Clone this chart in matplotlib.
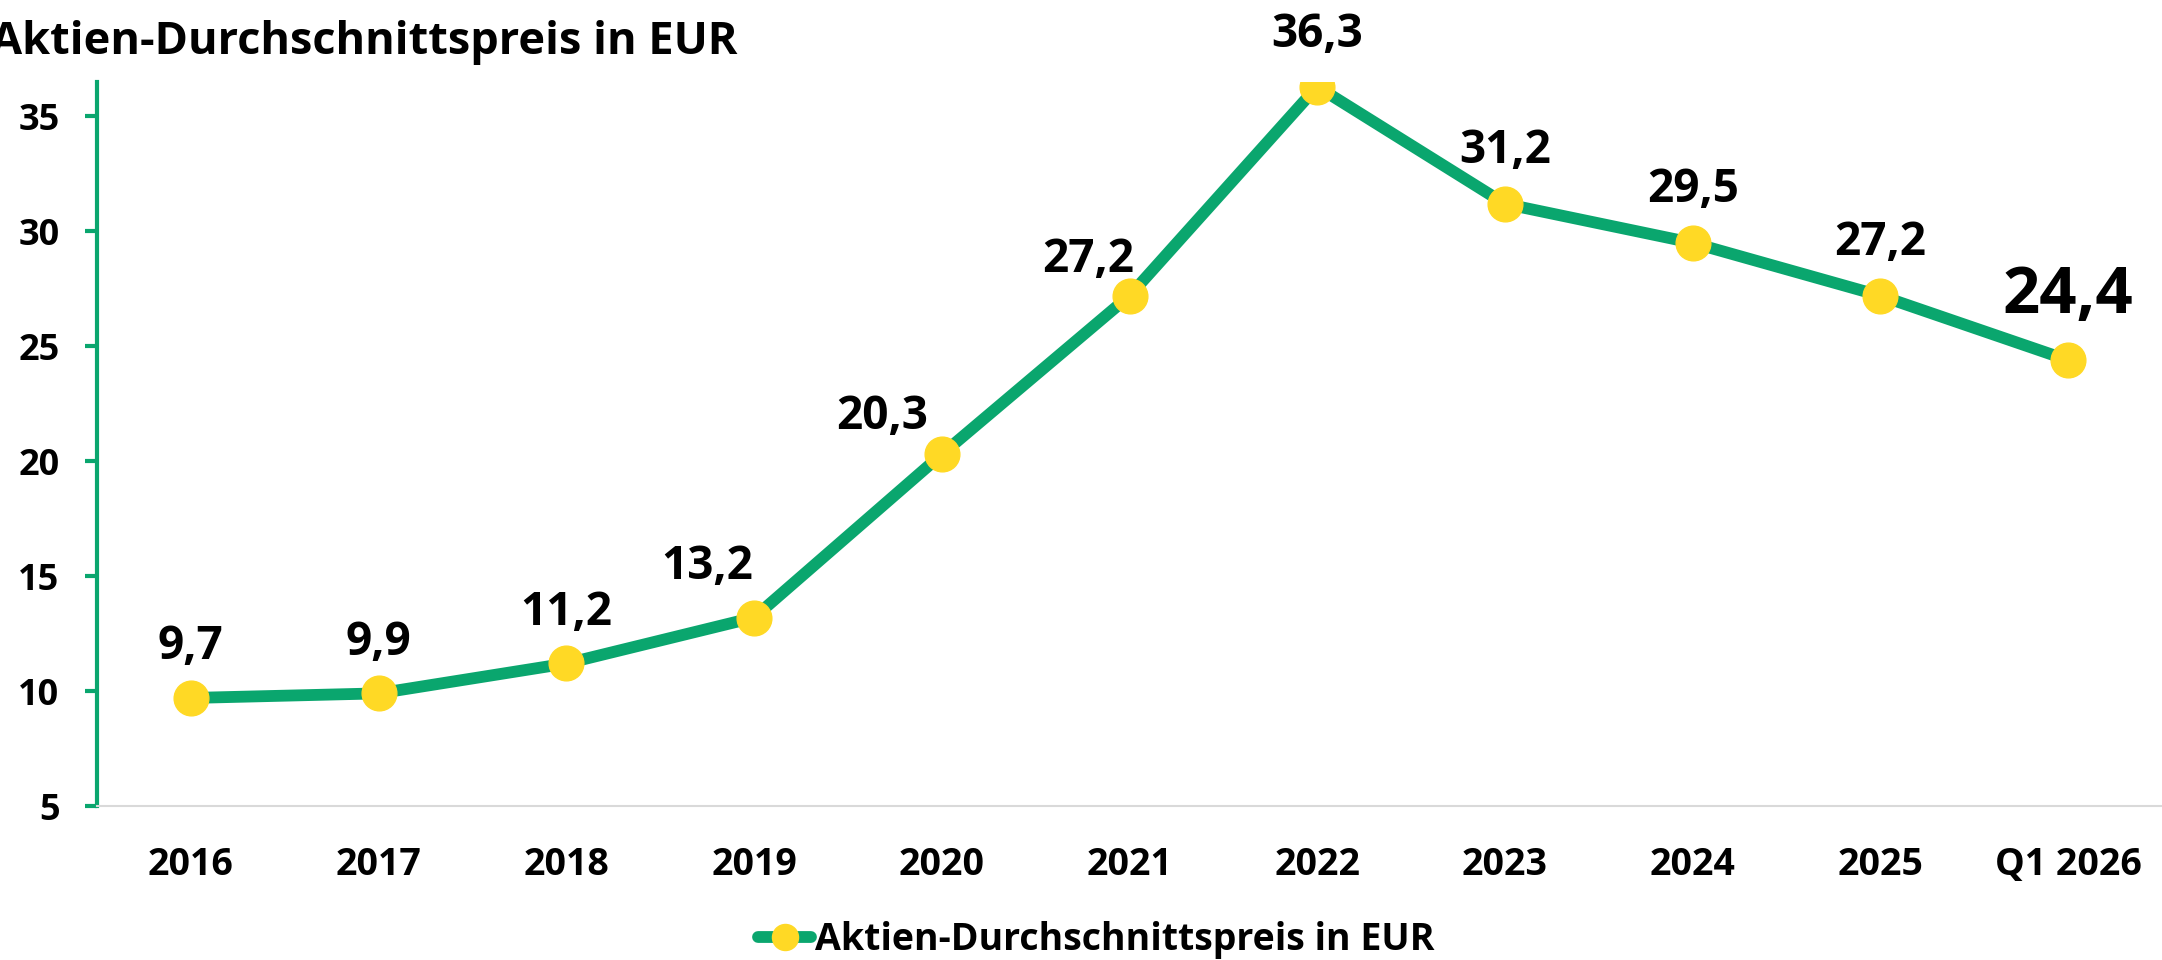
import matplotlib
matplotlib.use("Agg")
import matplotlib.pyplot as plt

plt.rcParams['font.family'] = ['Open Sans', 'DejaVu Sans']
plt.rcParams['font.weight'] = 'bold'

categories = ["2016", "2017", "2018", "2019", "2020", "2021", "2022", "2023", "2024", "2025", "Q1 2026"]
prices = [9.7, 9.9, 11.2, 13.2, 20.3, 27.2, 36.3, 31.2, 29.5, 27.2, 24.4]
labels = ["9,7", "9,9", "11,2", "13,2", "20,3", "27,2", "36,3", "31,2", "29,5", "27,2", "24,4"]
series_name = "Aktien-Durchschnittspreis in EUR"

GREEN = "#0aa66e"
YELLOW = "#ffd925"

fig = plt.figure(figsize=(21.62, 9.6), dpi=100)
ax = fig.add_axes([97 / 2162, 1 - 806 / 960, 1 - 97 / 2162, (806 - 82) / 960])

x = list(range(len(categories)))
ax.plot(x, prices, color=GREEN, lw=8.5, marker='o', ms=25,
        markerfacecolor=YELLOW, markeredgecolor=YELLOW, label=series_name,
        solid_capstyle='round', zorder=3)

# label offsets in pixels (dx, dy) relative to the marker
offsets = [(0, 51), (0, 51), (0, 51), (-47, 51), (-60, 38), (-41, 36),
           (0, 52), (0, 53), (0, 53), (0, 53), (0, 64)]
for i, (val, lab) in enumerate(zip(prices, labels)):
    size = 47 if i == len(prices) - 1 else 33
    ax.annotate(lab, (i, val), xytext=offsets[i], textcoords='offset pixels',
                ha='center', va='center', fontsize=size, fontweight='bold', color='black')

ax.set_xlim(-0.5, len(categories) - 0.5)
ax.set_ylim(5, 36.5)
ax.set_yticks([5, 10, 15, 20, 25, 30, 35])
ax.set_xticks(x)
ax.set_xticklabels(categories)

for s in ['top', 'right']:
    ax.spines[s].set_visible(False)
ax.spines['left'].set_color(GREEN)
ax.spines['left'].set_linewidth(3)
ax.spines['bottom'].set_color('#d9d9d9')
ax.spines['bottom'].set_linewidth(1.5)

ax.tick_params(axis='y', colors=GREEN, length=9, width=3, direction='out', pad=18,
               labelcolor='black', labelsize=26)
ax.tick_params(axis='x', length=0, pad=29, labelcolor='black', labelsize=27)

fig.text(-0.004, 0.956, series_name, fontsize=32.5, fontweight='bold', ha='left', va='center')

fig.legend(loc='center', bbox_to_anchor=(0.507, 1 - 940 / 960), frameon=False,
           fontsize=27, handlelength=1.4, handletextpad=0.1, markerscale=0.75)

fig.savefig("out.png", dpi=100)
